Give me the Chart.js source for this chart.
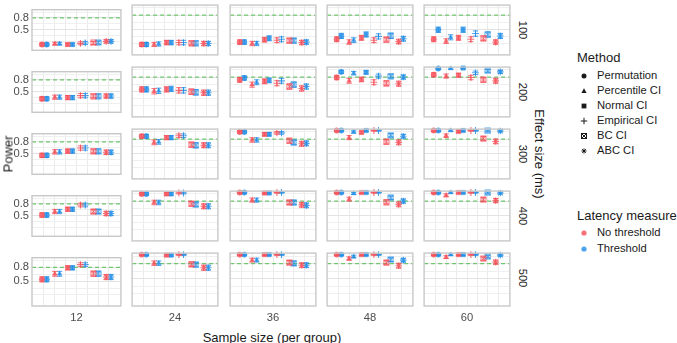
<!DOCTYPE html>
<html>
<head>
<meta charset="utf-8">
<script src="https://cdn.jsdelivr.net/npm/chart.js@4.4.1/dist/chart.umd.min.js"></script>
<style>
  body { margin: 0; background: #fff; font-family: "Liberation Sans", Arial, sans-serif; }
  #wrap { position: relative; width: 677px; height: 343px; overflow: hidden; background: #fff; }
  #wrap canvas { position: absolute; }
  .txt { position: absolute; white-space: nowrap; color: #1a1a1a; line-height: 1; }
</style>
</head>
<body>
<div id="wrap"></div>
<script>
const methods = ['Permutation', 'Percentile CI', 'Normal CI', 'Empirical CI', 'BC CI', 'ABC CI'];
const latencies = ['No threshold', 'Threshold'];
const effectSizes = [100, 200, 300, 400, 500];
const sampleSizes = [12, 24, 36, 48, 60];
const yLabels = [0.5, 0.8];
const targetPower = 0.8;
const nSims = 300;

// power per sample size (rows) and method (columns)
const noThr100 = [
  [0.11, 0.13, 0.11, 0.14, 0.15, 0.19],
  [0.18, 0.18, 0.22, 0.22, 0.21, 0.20],
  [0.23, 0.20, 0.28, 0.27, 0.26, 0.22],
  [0.29, 0.23, 0.32, 0.27, 0.28, 0.24],
  [0.29, 0.25, 0.32, 0.29, 0.31, 0.23]
];
const thr100 = [
  [0.11, 0.13, 0.11, 0.15, 0.16, 0.19],
  [0.18, 0.19, 0.22, 0.22, 0.21, 0.20],
  [0.23, 0.20, 0.31, 0.29, 0.26, 0.23],
  [0.36, 0.27, 0.39, 0.35, 0.36, 0.30],
  [0.49, 0.33, 0.49, 0.41, 0.39, 0.36]
];
const noThr200 = [
  [0.31, 0.35, 0.34, 0.39, 0.38, 0.38],
  [0.54, 0.50, 0.54, 0.52, 0.49, 0.47],
  [0.74, 0.64, 0.71, 0.67, 0.60, 0.56],
  [0.79, 0.72, 0.75, 0.69, 0.67, 0.66],
  [0.85, 0.82, 0.84, 0.79, 0.74, 0.72]
];
const thr200 = [
  [0.31, 0.35, 0.34, 0.39, 0.38, 0.38],
  [0.54, 0.51, 0.55, 0.52, 0.48, 0.47],
  [0.78, 0.69, 0.73, 0.72, 0.64, 0.60],
  [0.91, 0.88, 0.90, 0.82, 0.82, 0.80],
  [0.98, 0.98, 0.99, 0.89, 0.93, 0.91]
];
const noThr300 = [
  [0.45, 0.54, 0.56, 0.64, 0.56, 0.53],
  [0.86, 0.73, 0.83, 0.87, 0.68, 0.67],
  [0.95, 0.78, 0.90, 0.93, 0.76, 0.70],
  [0.98, 0.83, 0.94, 0.98, 0.74, 0.73],
  [0.98, 0.87, 0.96, 0.98, 0.81, 0.75]
];
const thr300 = [
  [0.45, 0.54, 0.56, 0.64, 0.56, 0.53],
  [0.86, 0.74, 0.83, 0.87, 0.67, 0.67],
  [0.95, 0.78, 0.90, 0.93, 0.73, 0.71],
  [0.98, 0.95, 0.98, 0.98, 0.88, 0.86],
  [0.98, 0.98, 0.98, 0.98, 0.97, 0.97]
];
const noThr400 = [
  [0.51, 0.60, 0.66, 0.77, 0.60, 0.55],
  [0.95, 0.77, 0.95, 0.97, 0.74, 0.69],
  [0.98, 0.82, 0.97, 0.98, 0.77, 0.72],
  [0.98, 0.84, 0.98, 0.98, 0.78, 0.73],
  [0.98, 0.92, 0.98, 0.98, 0.83, 0.81]
];
const thr400 = [
  [0.51, 0.60, 0.66, 0.77, 0.60, 0.55],
  [0.95, 0.77, 0.95, 0.97, 0.73, 0.69],
  [0.98, 0.82, 0.97, 0.98, 0.77, 0.71],
  [0.98, 0.96, 0.98, 0.98, 0.87, 0.80],
  [0.98, 0.98, 0.98, 0.98, 0.97, 0.97]
];
const noThr500 = [
  [0.54, 0.66, 0.79, 0.86, 0.66, 0.59],
  [0.98, 0.81, 0.97, 0.98, 0.79, 0.72],
  [0.98, 0.87, 0.98, 0.98, 0.82, 0.77],
  [0.98, 0.90, 0.98, 0.98, 0.82, 0.76],
  [0.98, 0.93, 0.98, 0.98, 0.90, 0.83]
];
const thr500 = [
  [0.54, 0.66, 0.79, 0.86, 0.66, 0.59],
  [0.98, 0.81, 0.97, 0.98, 0.78, 0.72],
  [0.98, 0.87, 0.98, 0.98, 0.81, 0.77],
  [0.98, 0.94, 0.98, 0.98, 0.88, 0.87],
  [0.98, 0.98, 0.98, 0.98, 0.94, 0.97]
];

const powerNoThr = [noThr100, noThr200, noThr300, noThr400, noThr500];
const powerThr = [thr100, thr200, thr300, thr400, thr500];

const latColors = ['rgba(246,76,86,0.8)', 'rgba(30,140,230,0.8)'];

// layout
const colLeft = [32, 129, 227, 324, 421];
const rowTop = [2, 64, 126, 188, 250];
const panelW = 92, panelH = 56;
const yAxisW = 32, xAxisH = 20, pad = 2;
const methodStep = 1.185, latOffset = 0.22;

const wrap = document.getElementById('wrap');

function addText(str, x, y, size, mode) {
  const d = document.createElement('div');
  d.className = 'txt';
  d.textContent = str;
  d.style.left = x + 'px';
  d.style.top = y + 'px';
  d.style.fontSize = size + 'px';
  if (mode === 'down') d.style.transform = 'translate(-50%,-50%) rotate(90deg)';
  else if (mode === 'up') d.style.transform = 'translate(-50%,-50%) rotate(-90deg)';
  else if (mode === 'center') d.style.transform = 'translate(-50%,-50%)';
  else d.style.transform = 'translate(0,-50%)';
  wrap.appendChild(d);
  return d;
}

function glyph(ctx, style, cx, cy, r, color) {
  ctx.save();
  ctx.fillStyle = color;
  ctx.strokeStyle = color;
  ctx.lineWidth = 1;
  ctx.beginPath();
  if (style === 'circle') {
    ctx.arc(cx, cy, r, 0, Math.PI * 2);
    ctx.fill();
  } else if (style === 'triangle') {
    ctx.moveTo(cx, cy - r * 1.1);
    ctx.lineTo(cx + r * 1.05, cy + r * 0.75);
    ctx.lineTo(cx - r * 1.05, cy + r * 0.75);
    ctx.closePath();
    ctx.fill();
  } else if (style === 'rect') {
    ctx.fillRect(cx - r * 0.8, cy - r * 0.8, r * 1.6, r * 1.6);
  } else if (style === 'cross') {
    ctx.moveTo(cx - r * 1.3, cy); ctx.lineTo(cx + r * 1.3, cy);
    ctx.moveTo(cx, cy - r * 1.3); ctx.lineTo(cx, cy + r * 1.3);
    ctx.stroke();
  } else if (style === 'bc') {
    ctx.strokeRect(cx - r, cy - r, r * 2, r * 2);
    ctx.moveTo(cx - r, cy - r); ctx.lineTo(cx + r, cy + r);
    ctx.moveTo(cx + r, cy - r); ctx.lineTo(cx - r, cy + r);
    ctx.stroke();
  } else if (style === 'star') {
    for (let a = 0; a < 4; a++) {
      const t = a * Math.PI / 4;
      ctx.moveTo(cx - Math.cos(t) * r, cy - Math.sin(t) * r);
      ctx.lineTo(cx + Math.cos(t) * r, cy + Math.sin(t) * r);
    }
    ctx.stroke();
  }
  ctx.restore();
}

// BC CI has no built-in point style, so make small images
function bcImage(color) {
  const c = document.createElement('canvas');
  c.width = 7; c.height = 7;
  glyph(c.getContext('2d'), 'bc', 3.5, 3.5, 2.5, color);
  return c;
}
const bcImgs = latColors.map(bcImage);
const styleNames = ['circle', 'triangle', 'rect', 'cross', 'bc', 'star'];

const refLine = {
  id: 'refLine',
  beforeDatasetsDraw(chart) {
    const { ctx, chartArea: a, scales: { y } } = chart;
    const py = y.getPixelForValue(targetPower);
    ctx.save();
    ctx.strokeStyle = '#6fc66f';
    ctx.lineWidth = 1.2;
    ctx.setLineDash([4, 3]);
    ctx.beginPath();
    ctx.moveTo(a.left, py);
    ctx.lineTo(a.right, py);
    ctx.stroke();
    ctx.restore();
  }
};

const errorBars = {
  id: 'errorBars',
  afterDatasetDraw(chart, args) {
    const { ctx, scales: { y } } = chart;
    const ds = chart.data.datasets[args.index];
    ctx.save();
    ctx.strokeStyle = ds.borderColor;
    ctx.lineWidth = 1;
    args.meta.data.forEach((pt, k) => {
      const p = ds.data[k].y;
      const half = 1.96 * Math.sqrt(p * (1 - p) / nSims);
      const top = y.getPixelForValue(Math.min(1, p + half));
      const bot = y.getPixelForValue(Math.max(0, p - half));
      ctx.beginPath();
      ctx.moveTo(pt.x, top); ctx.lineTo(pt.x, bot);
      ctx.moveTo(pt.x - 2.7, top); ctx.lineTo(pt.x + 2.7, top);
      ctx.moveTo(pt.x - 2.7, bot); ctx.lineTo(pt.x + 2.7, bot);
      ctx.stroke();
    });
    ctx.restore();
  }
};

const panelBorder = {
  id: 'panelBorder',
  afterDraw(chart) {
    const { ctx, chartArea: a } = chart;
    ctx.save();
    ctx.strokeStyle = '#c8c8c8';
    ctx.lineWidth = 1.4;
    ctx.strokeRect(a.left, a.top, a.right - a.left, a.bottom - a.top);
    ctx.restore();
  }
};

function makePanel(r, c) {
  const firstCol = c === 0, lastRow = r === effectSizes.length - 1;
  const w = panelW + (firstCol ? yAxisW : 0) + pad * 2;
  const h = panelH + (lastRow ? xAxisH : 0) + pad * 2;
  const cv = document.createElement('canvas');
  cv.width = w; cv.height = h;
  cv.style.left = (colLeft[c] - (firstCol ? yAxisW : 0) - pad) + 'px';
  cv.style.top = (rowTop[r] - pad) + 'px';
  wrap.appendChild(cv);

  const series = [powerNoThr[r][c], powerThr[r][c]];
  const datasets = series.map((vals, li) => ({
    label: latencies[li],
    data: vals.map((v, k) => ({ x: (k - 2.5) * methodStep + (li === 0 ? -latOffset : latOffset), y: v })),
    pointStyle: styleNames.map(s => s === 'bc' ? bcImgs[li] : s),
    pointRadius: styleNames.map(s => s === 'cross' ? 3.4 : s === 'star' ? 3.3 : s === 'rect' ? 3.1 : 2.7),
    backgroundColor: latColors[li],
    borderColor: latColors[li],
    borderWidth: styleNames.map(s => (s === 'cross' || s === 'star') ? 1.1 : 0.5),
    clip: false
  }));

  new Chart(cv, {
    type: 'scatter',
    data: { datasets },
    options: {
      responsive: false,
      animation: false,
      devicePixelRatio: 1,
      layout: { padding: pad },
      plugins: { legend: { display: false }, tooltip: { enabled: false } },
      scales: {
        x: {
          type: 'linear', min: -4.1, max: 4.1,
          afterBuildTicks: ax => { ax.ticks = [-3, -2, -1, 0, 1, 2, 3].map(v => ({ value: v })); },
          afterFit: ax => { ax.height = lastRow ? xAxisH : 0; },
          grid: { color: '#ebebeb', lineWidth: 1, drawTicks: false },
          border: { display: false },
          ticks: {
            display: lastRow, autoSkip: false, maxRotation: 0, padding: 5,
            color: '#4d4d4d', font: { size: 11.2, family: 'Liberation Sans' },
            callback: v => v === 0 ? String(sampleSizes[c]) : ''
          }
        },
        y: {
          type: 'linear', min: -0.04, max: 1.01,
          afterBuildTicks: ax => { ax.ticks = [0.2, 0.35, 0.5, 0.65, 0.8, 0.95].map(v => ({ value: v })); },
          afterFit: ax => { ax.width = firstCol ? yAxisW : 0; },
          grid: {
            drawTicks: false,
            color: ctx => yLabels.some(l => Math.abs(l - ctx.tick.value) < 1e-6) ? '#e3e3e3' : '#efefef',
            lineWidth: 1
          },
          border: { display: false },
          ticks: {
            display: firstCol, autoSkip: false, padding: 3,
            color: '#4d4d4d', font: { size: 11.2, family: 'Liberation Sans' },
            callback: v => yLabels.some(l => Math.abs(l - v) < 1e-6) ? v.toFixed(1) : ''
          }
        }
      }
    },
    plugins: [refLine, errorBars, panelBorder]
  });
}

effectSizes.forEach((e, r) => sampleSizes.forEach((s, c) => makePanel(r, c)));

// strip labels on the right
effectSizes.forEach((e, r) => addText(String(e), 522, rowTop[r] + panelH / 2, 11.2, 'down'));

// axis titles
addText('Power', 8, 154, 13, 'up');
addText('Effect size (ms)', 539, 154, 13, 'down');
addText('Sample size (per group)', 272, 337, 13, 'center');

// legends
const legX = 577, keyX = 584, labX = 597;
addText('Method', legX, 57, 13);
methods.forEach((m, i) => {
  const y = 76 + i * 14.9;
  const k = document.createElement('canvas');
  k.width = 12; k.height = 12;
  k.style.left = (keyX - 6) + 'px';
  k.style.top = (y - 6) + 'px';
  wrap.appendChild(k);
  glyph(k.getContext('2d'), styleNames[i], 6, 6, styleNames[i] === 'rect' ? 3 : 2.5, '#1a1a1a');
  addText(m, labX, y, 11.2);
});

addText('Latency measure', legX, 215, 13);
latencies.forEach((l, i) => {
  const y = 233 + i * 15.5;
  const k = document.createElement('canvas');
  k.width = 12; k.height = 12;
  k.style.left = (keyX - 6) + 'px';
  k.style.top = (y - 6) + 'px';
  wrap.appendChild(k);
  glyph(k.getContext('2d'), 'circle', 6, 6, 2.6, latColors[i]);
  addText(l, labX, y, 11.2);
});
</script>
</body>
</html>
